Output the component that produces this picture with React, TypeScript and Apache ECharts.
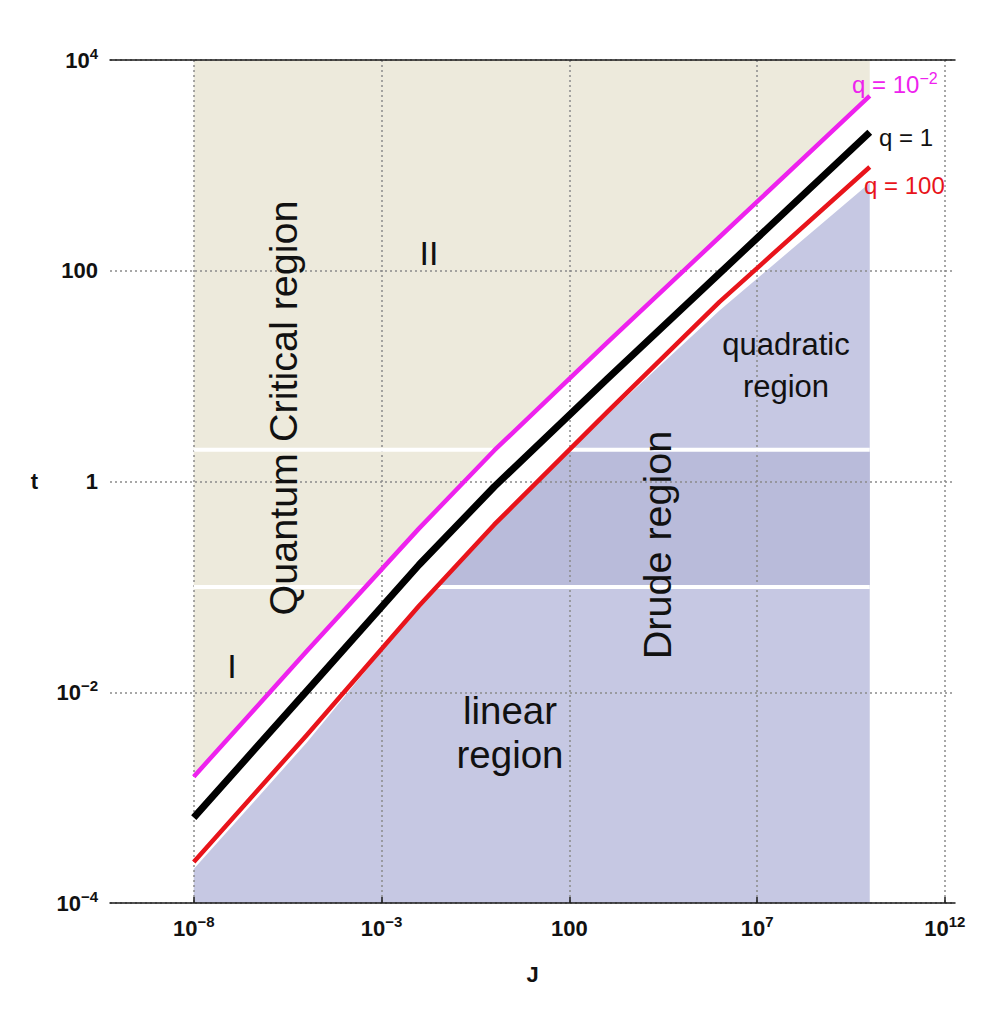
import React, { useEffect, useRef } from "react";
import * as echarts from "echarts";

// ---- data (real values; plotted on log10 scales) ----
const J_TICKS = [1e-8, 1e-3, 100, 1e7, 1e12];
const T_TICKS = [1e-4, 1e-2, 1, 100, 1e4];

const J_POINTS = [1e-8, 1e-5, 1e-2, 1, 1e3, 1e6, 1e10];
const T_Q_SMALL = [1.58e-3, 0.0243, 0.359, 1.97, 20.7, 209, 4571]; // q = 10^-2
const T_Q_ONE = [6.46e-4, 0.0102, 0.162, 0.891, 9.33, 94.4, 2065]; // q = 1
const T_Q_BIG = [2.45e-4, 3.89e-3, 0.0661, 0.389, 4.52, 50.7, 966]; // q = 100

const J_LAVENDER = [1e-8, 1e-5, 0.0257, 100, 1e6, 1e10];
const T_LAVENDER = [2.1e-4, 3.3e-3, 0.1, 2.0, 42, 680];

const T_LOW = 0.1; // linear / Drude boundary
const T_HIGH = 2; // Drude / quadratic boundary
const J_LEFT = 1e-8;
const J_RIGHT = 1e10;
const J_MIN = 10 ** -10.23;
const J_MAX = 10 ** 12.27;
const T_MIN = 1e-4;
const T_MAX = 1e4;

const lg = Math.log10;
const pairs = (js: number[], ts: number[]) => js.map((j, i) => [lg(j), lg(ts[i])]);
// x (log) where polyline crosses level t
const crossX = (js: number[], ts: number[], t: number) => {
  const L = lg(t);
  for (let i = 0; i < js.length - 1; i++) {
    const y0 = lg(ts[i]), y1 = lg(ts[i + 1]);
    if ((y0 - L) * (y1 - L) <= 0 && y0 !== y1) {
      const x0 = lg(js[i]), x1 = lg(js[i + 1]);
      return x0 + ((L - y0) / (y1 - y0)) * (x1 - x0);
    }
  }
  return lg(js[0]);
};

const FONT = "'Liberation Sans', Arial, sans-serif";
const BEIGE = "#EDEADC";
const LAVENDER = "#C6C8E3";
const DRUDE = "#B9BBDA";
const MAGENTA = "#EE22EE";
const RED = "#E8141B";

const powLabel = (v: number) => {
  const r = Math.round(v);
  if (r === 0) return "{b|1}";
  if (r === 2) return "{b|100}";
  const e = r < 0 ? "\u2212" + Math.abs(r) : String(r);
  return `{b|10}{s|${e}}`;
};
const tickRich = {
  b: { fontSize: 22, fontWeight: "bold", fontFamily: FONT, color: "#111", lineHeight: 28 },
  s: { fontSize: 15, fontWeight: "bold", fontFamily: FONT, color: "#111", lineHeight: 9, verticalAlign: "top" },
};

export default function App() {
  const ref = useRef<HTMLDivElement>(null);
  useEffect(() => {
    if (!ref.current) return;
    const chart = echarts.init(ref.current, null, { renderer: "svg" });

    const xL = lg(J_LEFT), xR = lg(J_RIGHT);
    const yLow = lg(T_LOW), yHigh = lg(T_HIGH);
    const lavLowX = crossX(J_LAVENDER, T_LAVENDER, T_LOW);
    const lavHighX = crossX(J_LAVENDER, T_LAVENDER, T_HIGH);
    const magLowX = crossX(J_POINTS, T_Q_SMALL, T_LOW);
    const magHighX = crossX(J_POINTS, T_Q_SMALL, T_HIGH);

    const lavPairs = pairs(J_LAVENDER, T_LAVENDER);
    const drudeData: number[][] = [[lavLowX, yLow]];
    lavPairs.forEach((p) => {
      if (p[0] > lavLowX && p[0] < lavHighX) drudeData.push(p);
    });
    drudeData.push([lavHighX, yHigh], [xR, yHigh]);

    const grid = { lineStyle: { color: "#8a8a8a", type: [2, 3], width: 1.5 } };
    const whiteLine = (data: number[][]) => ({
      type: "line",
      data,
      showSymbol: false,
      silent: true,
      z: 4,
      lineStyle: { color: "#ffffff", width: 4 },
    });
    const curve = (data: number[][], color: string, width: number) => ({
      type: "line",
      data,
      showSymbol: false,
      silent: true,
      z: 6,
      lineStyle: { color, width, cap: "butt", join: "round" },
    });

    const qRich = (color: string) => ({
      a: { fontSize: 24, fontFamily: FONT, fill: color, lineHeight: 28 },
      s: { fontSize: 16, fontFamily: FONT, fill: color, lineHeight: 10, verticalAlign: "top" },
    });
    const label = (text: string, x: number, y: number, size: number, rot = 0, lh?: number) => ({
      type: "text",
      x,
      y,
      rotation: rot,
      z: 20,
      silent: true,
      style: {
        text,
        fontSize: size,
        fontFamily: FONT,
        fill: "#111",
        align: "center",
        verticalAlign: "middle",
        lineHeight: lh,
      },
    });

    chart.setOption({
      animation: false,
      backgroundColor: "#ffffff",
      grid: { left: 110, right: 42, top: 60, bottom: 119, containLabel: false },
      xAxis: [
        {
          type: "value",
          min: lg(J_MIN),
          max: lg(J_MAX),
          position: "bottom",
          z: 3,
          axisLine: { show: true, onZero: false, lineStyle: { color: "#1a1a1a", width: 1.5 } },
          axisTick: { show: true, inside: true, length: 6, customValues: J_TICKS.map(lg), lineStyle: { color: "#1a1a1a", width: 1.5 } },
          axisLabel: { customValues: J_TICKS.map(lg), margin: 11, formatter: powLabel, rich: tickRich },
          splitLine: { show: true, ...grid },
          name: "J",
          nameLocation: "middle",
          nameGap: 60,
          nameTextStyle: { fontSize: 22, fontWeight: "bold", fontFamily: FONT, color: "#111" },
        },
        {
          type: "value",
          min: lg(J_MIN),
          max: lg(J_MAX),
          position: "top",
          z: 3,
          axisLine: { show: true, onZero: false, lineStyle: { color: "#1a1a1a", width: 1.5 } },
          axisTick: { show: false },
          axisLabel: { show: false },
          splitLine: { show: false },
        },
      ],
      yAxis: {
        type: "value",
        min: lg(T_MIN),
        max: lg(T_MAX),
        interval: 2,
        z: 3,
        axisLine: { show: false, onZero: false },
        axisTick: { show: false },
        axisLabel: { margin: 12, formatter: powLabel, rich: tickRich, customValues: T_TICKS.map(lg) },
        splitLine: { show: true, ...grid },
        name: "t",
        nameLocation: "middle",
        nameRotate: 0,
        nameGap: 72,
        nameTextStyle: { fontSize: 22, fontWeight: "bold", fontFamily: FONT, color: "#111" },
      },
      series: [
        {
          type: "line",
          data: pairs(J_POINTS, T_Q_SMALL),
          showSymbol: false,
          silent: true,
          z: 1,
          lineStyle: { width: 0 },
          areaStyle: { color: BEIGE, opacity: 1, origin: "end" },
        },
        {
          type: "line",
          data: lavPairs,
          showSymbol: false,
          silent: true,
          z: 1,
          lineStyle: { width: 0 },
          areaStyle: { color: LAVENDER, opacity: 1, origin: "start" },
        },
        {
          type: "line",
          data: drudeData,
          showSymbol: false,
          silent: true,
          z: 2,
          lineStyle: { width: 0 },
          areaStyle: { color: DRUDE, opacity: 1, origin: yLow },
        },
        whiteLine([[xL, yLow], [magLowX, yLow]]),
        whiteLine([[xL, yHigh], [magHighX, yHigh]]),
        whiteLine([[lavLowX, yLow], [xR, yLow]]),
        whiteLine([[lavHighX, yHigh], [xR, yHigh]]),
        curve(pairs(J_POINTS, T_Q_SMALL), MAGENTA, 4.5),
        curve(pairs(J_POINTS, T_Q_ONE), "#000000", 7),
        curve(pairs(J_POINTS, T_Q_BIG), RED, 4.5),
      ],
      graphic: [
        label("Quantum Critical region", 283, 408, 39.5, Math.PI / 2),
        label("Drude region", 657, 545, 39.5, Math.PI / 2),
        label("II", 429, 253, 34),
        label("I", 232, 666, 34),
        label("linear\nregion", 510, 732, 38.5, 0, 44),
        label("quadratic\nregion", 786, 365, 31, 0, 42),
        {
          type: "text",
          x: 852,
          y: 84,
          z: 20,
          silent: true,
          style: { text: "{a|q = 10}{s|\u22122}", rich: qRich(MAGENTA), align: "left", verticalAlign: "middle" },
        },
        {
          type: "text",
          x: 879,
          y: 137,
          z: 20,
          silent: true,
          style: { text: "{a|q = 1}", rich: qRich("#111111"), align: "left", verticalAlign: "middle" },
        },
        {
          type: "text",
          x: 864,
          y: 185,
          z: 20,
          silent: true,
          style: { text: "{a|q = 100}", rich: qRich(RED), align: "left", verticalAlign: "middle" },
        },
      ],
    });
    return () => chart.dispose();
  }, []);
  return <div ref={ref} style={{ position: "absolute", left: 0, top: 0, width: 997, height: 1022 }} />;
}
